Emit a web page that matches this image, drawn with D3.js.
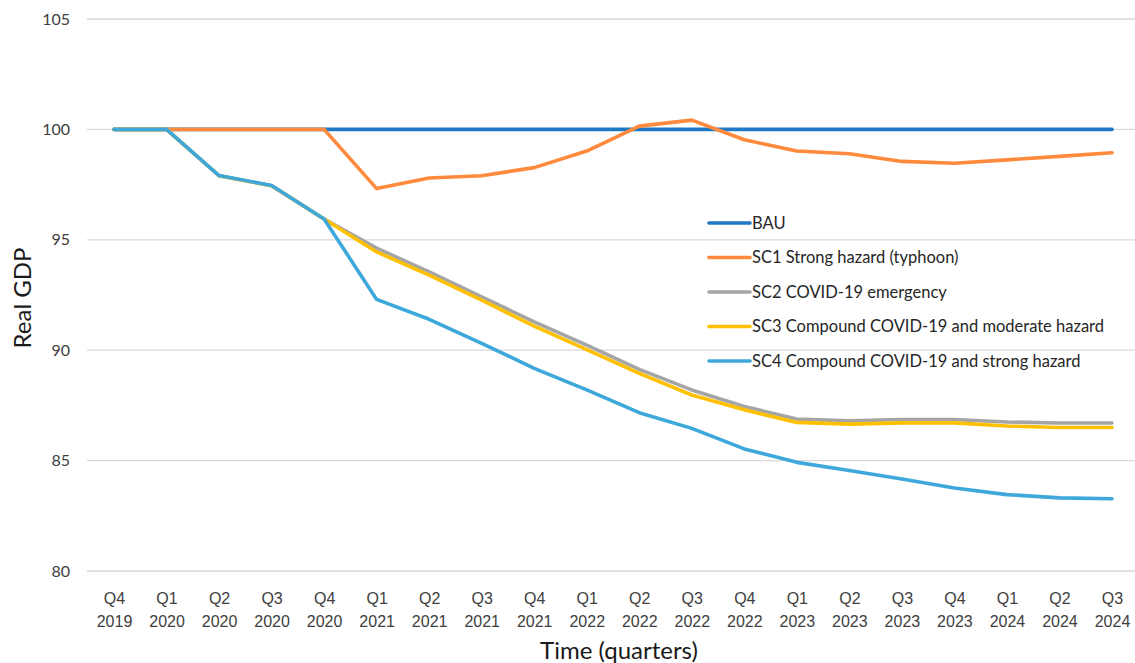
<!DOCTYPE html>
<html>
<head>
<meta charset="utf-8">
<script src="https://cdn.jsdelivr.net/npm/d3@7"></script>
<style>
  body { margin: 0; background: #fff; }
  svg { display: block; font-family: Lato, "Open Sans", sans-serif; }
</style>
</head>
<body>
<div id="chart"></div>
<script>
// quarters on the x axis
const quarters = [
  "Q4 2019", "Q1 2020", "Q2 2020", "Q3 2020", "Q4 2020",
  "Q1 2021", "Q2 2021", "Q3 2021", "Q4 2021", "Q1 2022",
  "Q2 2022", "Q3 2022", "Q4 2022", "Q1 2023", "Q2 2023",
  "Q3 2023", "Q4 2023", "Q1 2024", "Q2 2024", "Q3 2024",
];

const seriesNames = [
  "BAU",
  "SC1 Strong hazard (typhoon)",
  "SC2 COVID-19 emergency",
  "SC3 Compound COVID-19 and moderate hazard",
  "SC4 Compound COVID-19 and strong hazard",
];
const seriesColors = ["#1f78c4", "#ff8a3d", "#a5a5a5", "#ffc000", "#3ea8db"];

// values
const bau = [100, 100, 100, 100, 100, 100, 100, 100, 100, 100, 100, 100, 100, 100, 100, 100, 100, 100, 100, 100];
const sc1 = [100, 100, 100, 100, 100, 97.32, 97.8, 97.9, 98.27, 99.02, 100.15, 100.42, 99.53, 99.02, 98.9, 98.55, 98.47, 98.62, 98.78, 98.94];
const sc2 = [100, 100, 97.9, 97.45, 95.94, 94.62, 93.55, 92.42, 91.28, 90.23, 89.13, 88.2, 87.45, 86.88, 86.8, 86.86, 86.86, 86.75, 86.7, 86.7];
const sc3 = [100, 100, 97.9, 97.45, 95.94, 94.45, 93.4, 92.27, 91.09, 90.03, 88.95, 87.97, 87.3, 86.73, 86.65, 86.71, 86.71, 86.57, 86.5, 86.5];
const sc4 = [100, 100, 97.91, 97.46, 95.94, 92.3, 91.4, 90.31, 89.18, 88.2, 87.17, 86.46, 85.53, 84.92, 84.55, 84.17, 83.76, 83.46, 83.31, 83.27];

const yTicks = [80, 85, 90, 95, 100, 105];

function drawChart() {
  const width = 1135;
  const height = 663;

  const svg = d3.select("#chart").append("svg").attr("width", width).attr("height", height);

  const xScale = d3.scalePoint().domain(quarters).range([114, 1112]);
  const yScale = d3.scaleLinear().domain([80, 105]).range([571, 19]);

  // horizontal gridlines
  svg
    .append("g")
    .selectAll("line")
    .data(yTicks)
    .join("line")
    .attr("x1", 87)
    .attr("x2", width)
    .attr("y1", (d) => yScale(d))
    .attr("y2", (d) => yScale(d))
    .attr("stroke", "#d9d9d9")
    .attr("stroke-width", 1.3);

  // y tick labels
  const yAxis = svg
    .append("g")
    .attr("transform", "translate(79,0)")
    .call(d3.axisLeft(yScale).tickValues(yTicks).tickSize(0).tickPadding(9));
  yAxis.select(".domain").remove();
  yAxis.selectAll("text").attr("font-size", 16).attr("fill", "#404040").attr("font-family", "Lato, sans-serif");

  // x tick labels, two lines each
  const xAxis = svg
    .append("g")
    .attr("transform", "translate(0,583)")
    .call(d3.axisBottom(xScale).tickSize(0).tickFormat(""));
  xAxis.select(".domain").remove();
  xAxis
    .selectAll(".tick")
    .append("text")
    .attr("text-anchor", "middle")
    .attr("font-size", 16)
    .attr("fill", "#404040")
    .selectAll("tspan")
    .data((d) => d.split(" "))
    .join("tspan")
    .attr("x", 0)
    .attr("y", (d, i) => 21 + i * 23)
    .text((d) => d);

  // lines, SC4 drawn last so it sits on top
  const allSeries = [bau, sc1, sc2, sc3, sc4];
  const line = d3
    .line()
    .x((d, i) => xScale(quarters[i]))
    .y((d) => yScale(d));

  svg
    .append("g")
    .selectAll("path")
    .data(allSeries)
    .join("path")
    .attr("d", line)
    .attr("fill", "none")
    .attr("stroke", (d, i) => seriesColors[i])
    .attr("stroke-width", 3.6)
    .attr("stroke-linejoin", "round")
    .attr("stroke-linecap", "round");

  // legend
  const legend = svg
    .append("g")
    .selectAll("g")
    .data(seriesNames)
    .join("g")
    .attr("transform", (d, i) => `translate(709, ${223 + i * 34.5})`);
  legend
    .append("line")
    .attr("x1", 0)
    .attr("x2", 41)
    .attr("stroke", (d, i) => seriesColors[i])
    .attr("stroke-width", 3.6)
    .attr("stroke-linecap", "round");
  legend
    .append("text")
    .attr("x", 43)
    .attr("dy", "0.36em")
    .attr("font-size", 16.5)
    .attr("fill", "#262626")
    .text((d) => d);

  // axis titles
  svg
    .append("text")
    .attr("transform", "translate(31,298) rotate(-90)")
    .attr("text-anchor", "middle")
    .attr("font-size", 24)
    .attr("fill", "#1a1a1a")
    .text("Real GDP");

  svg
    .append("text")
    .attr("x", 619)
    .attr("y", 659)
    .attr("text-anchor", "middle")
    .attr("font-size", 24)
    .attr("fill", "#1a1a1a")
    .text("Time (quarters)");
}

drawChart();
</script>
</body>
</html>
